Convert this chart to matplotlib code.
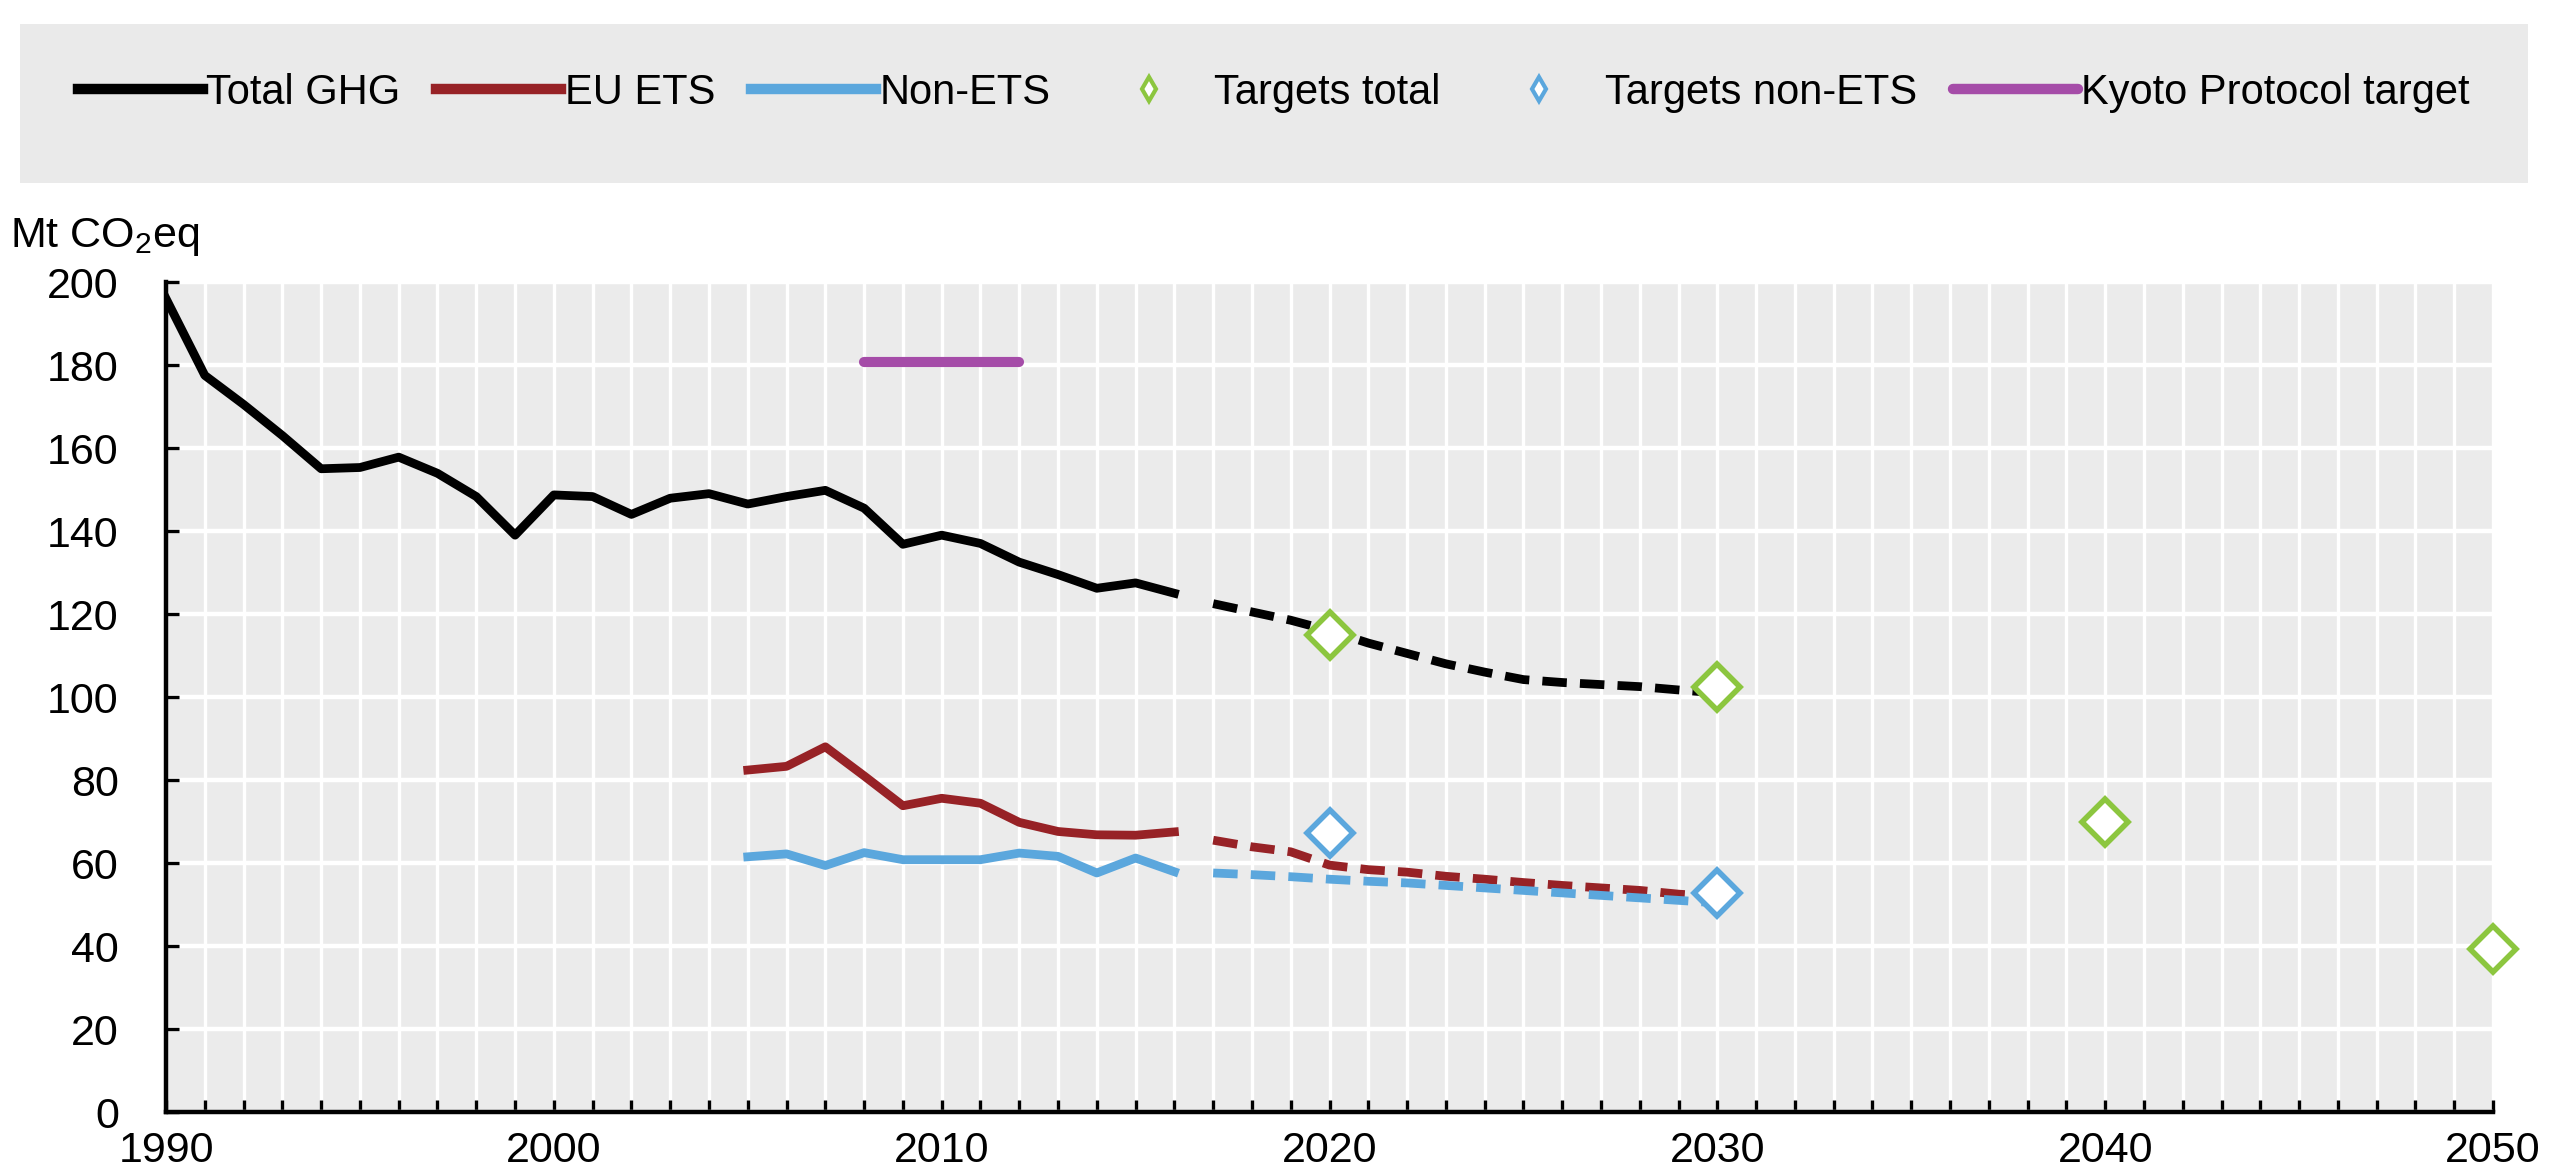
import matplotlib.pyplot as plt
import numpy as np
from matplotlib.lines import Line2D
from matplotlib.patches import Rectangle

plt.rcParams['font.family'] = ['Liberation Sans', 'DejaVu Sans']
plt.rcParams['mathtext.fontset'] = 'custom'
plt.rcParams['mathtext.rm'] = 'Liberation Sans'

# Historical series
years_hist = list(range(1990, 2017))
total_ghg = [196, 177.5, 170.5, 163, 155, 155.3, 157.8, 153.9, 148.3, 139,
             148.7, 148.3, 144, 147.9, 149, 146.5, 148.3, 149.8, 145.5, 136.8,
             139, 137, 132.5, 129.5, 126.2, 127.5, 125]
years_ets = list(range(2005, 2017))
eu_ets = [82.4, 83.3, 88, 81, 73.8, 75.6, 74.4, 69.8, 67.6, 66.8, 66.7, 67.5]
non_ets = [61.5, 62.2, 59.4, 62.5, 60.8, 60.8, 60.8, 62.4, 61.6, 57.6, 61.2, 57.9]

# Projections
years_proj = list(range(2017, 2031))
total_proj = [122.5, 120.5, 118.5, 116, 113, 110.5, 108, 106, 104.2, 103.5,
              103, 102.5, 101.7, 101]
ets_proj = [65.5, 63.9, 62.7, 59.5, 58.4, 57.8, 56.8, 56.1, 55.3, 54.6,
            54, 53.4, 52.5, 51.9]
non_ets_proj = [57.6, 57.2, 56.7, 56.1, 55.6, 55.2, 54.6, 54, 53.4, 52.8,
                52.2, 51.6, 51, 50.4]

# Targets
target_years_total = [2020, 2030, 2040, 2050]
targets_total = [115, 102.5, 70, 39.3]
target_years_non_ets = [2020, 2030]
targets_non_ets = [67.2, 52.8]
kyoto_years = [2008, 2012]
kyoto_target = [180.7, 180.7]

BLACK = '#000000'
RED = '#972226'
BLUE = '#5BA7DD'
GREEN = '#8CC63F'
PURPLE = '#A54CA8'
BG = '#EBEBEB'
FS = 31
LEG_FS = 30

fig = plt.figure(figsize=(25.58, 11.76), dpi=100)
ax = fig.add_axes([0.0649, 0.0544, 0.9097, 0.7058])
ax.set_facecolor(BG)

lw = 6.3
dash = (0, (2.8, 1.5))
ax.plot(years_hist, total_ghg, color=BLACK, lw=lw, solid_joinstyle='round')
ax.plot(years_ets, eu_ets, color=RED, lw=lw, solid_joinstyle='round')
ax.plot(years_ets, non_ets, color=BLUE, lw=lw, solid_joinstyle='round')
ax.plot(years_proj, total_proj, color=BLACK, lw=lw, ls=dash)
ax.plot(years_proj, ets_proj, color=RED, lw=lw, ls=dash)
ax.plot(years_proj, non_ets_proj, color=BLUE, lw=lw, ls=dash)
ax.plot(kyoto_years, kyoto_target, color=PURPLE, lw=lw + 1, solid_capstyle='round')

ax.plot(target_years_total, targets_total, ls='none', marker='D', ms=23,
        mfc='white', mec=GREEN, mew=4, clip_on=False, zorder=5)
ax.plot(target_years_non_ets, targets_non_ets, ls='none', marker='D', ms=23,
        mfc='white', mec=BLUE, mew=4, clip_on=False, zorder=5)

ax.set_xlim(1990, 2050)
ax.set_ylim(0, 200)
ax.set_xticks(np.arange(1990, 2051, 10))
ax.set_xticks(np.arange(1990, 2051, 1), minor=True)
ax.set_yticks(np.arange(0, 201, 20))

ax.set_axisbelow(True)
ax.grid(axis='x', which='minor', color='white', lw=2.4)
ax.grid(axis='x', which='major', color='white', lw=2.4)
ax.grid(axis='y', which='major', color='white', lw=3.2)

for side in ['top', 'right']:
    ax.spines[side].set_visible(False)
for side in ['left', 'bottom']:
    ax.spines[side].set_linewidth(3.2)
    ax.spines[side].set_color('black')

ax.tick_params(axis='x', which='both', direction='in', length=9, width=2.4,
               labelsize=FS, pad=14)
ax.tick_params(axis='y', which='major', direction='in', length=9, width=2.4,
               labelsize=FS, pad=34)

fig.text(0.004, 0.79, r'Mt CO$_2$eq', fontsize=31, va='baseline', ha='left')

# Legend panel
fig.patches.append(Rectangle((20 / 2558, 1 - 183 / 1176), 2508 / 2558, 159 / 1176,
                             transform=fig.transFigure, facecolor='#EAEAEA',
                             edgecolor='none', zorder=0))
handles = [
    Line2D([], [], color=BLACK, lw=7.5),
    Line2D([], [], color=RED, lw=7.5),
    Line2D([], [], color=BLUE, lw=7.5),
    Line2D([], [], ls='none', marker='d', ms=12, mfc='white', mec=GREEN, mew=3),
    Line2D([], [], ls='none', marker='d', ms=12, mfc='white', mec=BLUE, mew=3),
    Line2D([], [], color=PURPLE, lw=7.5, solid_capstyle='round'),
]
labels = ['Total GHG', 'EU ETS', 'Non-ETS', 'Targets total', 'Targets non-ETS',
          'Kyoto Protocol target']
fig.legend(handles, labels, loc='center', bbox_to_anchor=(0.498, 1 - 93 / 1176),
           ncol=6, frameon=False, fontsize=LEG_FS, handlelength=3.0,
           handletextpad=0.08, columnspacing=0.86)

fig.savefig('out.png', dpi=100)
